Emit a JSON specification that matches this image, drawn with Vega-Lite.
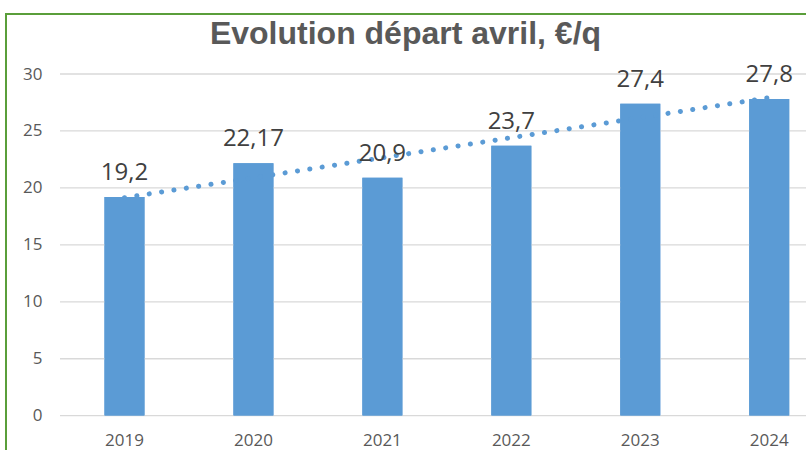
{
  "$schema": "https://vega.github.io/schema/vega-lite/v6.json",
  "width": 834,
  "height": 446,
  "autosize": {"type": "none"},
  "padding": {"left": 6, "top": 14, "right": 0, "bottom": 0},
  "background": "white",
  "config": {"view": {"stroke": "#5A9E3A", "strokeWidth": 2}},
  "title": {
    "text": "Evolution départ avril, €/q",
    "font": "Liberation Sans",
    "fontSize": 32,
    "fontWeight": "bold",
    "color": "#595959",
    "orient": "none",
    "anchor": "middle",
    "frame": "group",
    "baseline": "alphabetic",
    "offset": 0,
    "dy": 30,
    "dx": 399.5
  },
  "datasets": {
    "main": [
      {"year": "2019", "value": 19.2, "label": "19,2", "trend": 19.14},
      {"year": "2020", "value": 22.17, "label": "22,17", "trend": 20.89},
      {"year": "2021", "value": 20.9, "label": "20,9", "trend": 22.65},
      {"year": "2022", "value": 23.7, "label": "23,7", "trend": 24.41},
      {"year": "2023", "value": 27.4, "label": "27,4", "trend": 26.17},
      {"year": "2024", "value": 27.8, "label": "27,8", "trend": 27.92}
    ],
    "grid": [{"v": 0}, {"v": 5}, {"v": 10}, {"v": 15}, {"v": 20}, {"v": 25}, {"v": 30}]
  },
  "layer": [
    {
      "data": {"name": "main"},
      "mark": {"type": "bar", "color": "#5B9BD5", "width": 40},
      "encoding": {
        "x": {
          "field": "year",
          "type": "nominal",
          "sort": null,
          "scale": {"range": [54, 827.7], "paddingInner": 0, "paddingOuter": 0},
          "axis": {
            "orient": "bottom",
            "offset": -44.3,
            "domain": false,
            "ticks": false,
            "grid": false,
            "labelAngle": 0,
            "labelPadding": 17,
            "labelFont": "Open Sans",
            "labelFontSize": 17,
            "labelColor": "#595959",
            "title": null
          }
        },
        "y": {
          "field": "value",
          "type": "quantitative",
          "scale": {"domain": [-3.89, 35.27], "nice": false, "zero": false},
          "axis": {
            "values": [0, 5, 10, 15, 20, 25, 30],
            "grid": false,
            "domain": false,
            "ticks": false,
            "offset": -54,
            "labelPadding": 18,
            "labelFont": "Open Sans",
            "labelFontSize": 17,
            "labelColor": "#595959",
            "title": null
          }
        },
        "y2": {"datum": 0}
      }
    },
    {
      "data": {"name": "grid"},
      "mark": {"type": "rule", "color": "#D9D9D9", "strokeWidth": 1.3},
      "encoding": {
        "y": {"field": "v", "type": "quantitative"},
        "x": {"datum": "2019", "type": "nominal", "bandPosition": 0},
        "x2": {"datum": "2024", "bandPosition": 1}
      }
    },
    {
      "data": {"name": "main"},
      "mark": {"type": "bar", "color": "#5B9BD5", "width": 40},
      "encoding": {
        "x": {"field": "year", "type": "nominal", "sort": null},
        "y": {"field": "value", "type": "quantitative"},
        "y2": {"datum": 0}
      }
    },
    {
      "data": {"name": "main"},
      "mark": {"type": "line", "color": "#5B9BD5", "strokeWidth": 5, "strokeCap": "round", "strokeDash": [0.1, 12.4]},
      "encoding": {
        "x": {"field": "year", "type": "nominal", "sort": null},
        "y": {"field": "trend", "type": "quantitative"}
      }
    },
    {
      "data": {"name": "main"},
      "mark": {"type": "text", "font": "Open Sans", "fontSize": 24, "color": "#404040", "baseline": "alphabetic", "dy": -17},
      "encoding": {
        "x": {"field": "year", "type": "nominal", "sort": null},
        "y": {"field": "value", "type": "quantitative"},
        "text": {"field": "label"}
      }
    }
  ]
}
